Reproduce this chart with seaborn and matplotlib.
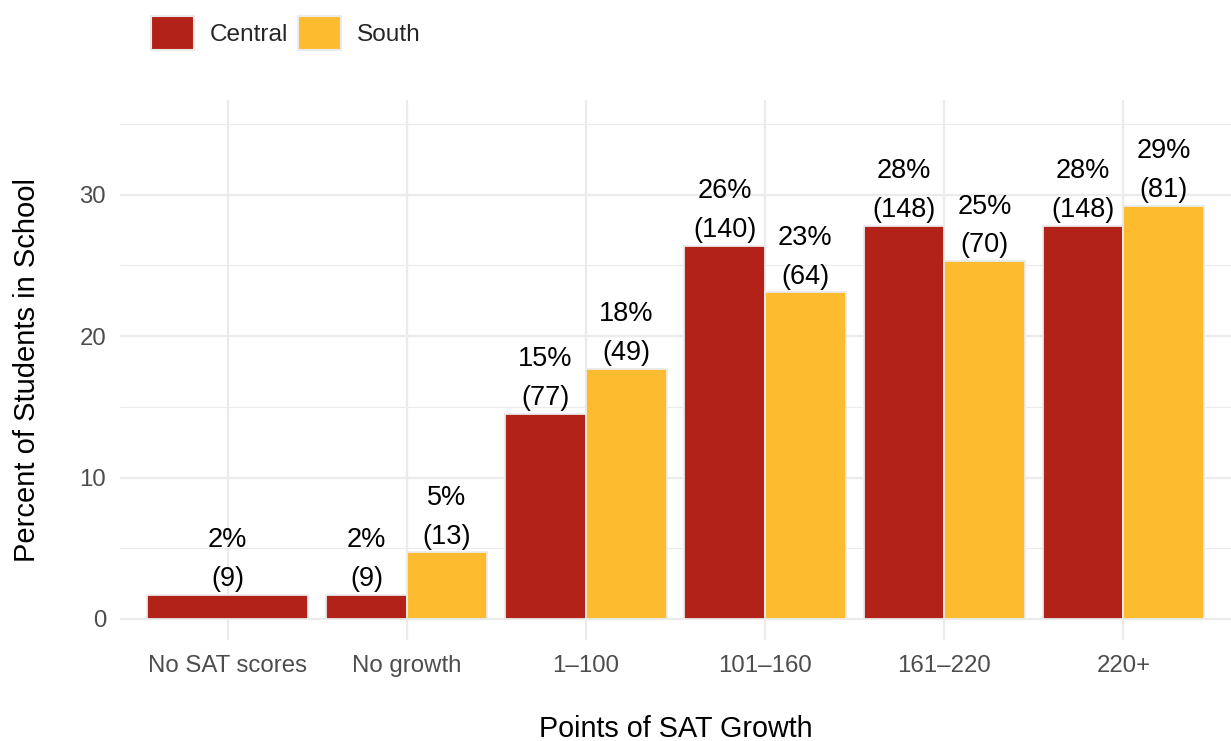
import numpy as np
import pandas as pd
import matplotlib
matplotlib.use("Agg")
import matplotlib.pyplot as plt
import seaborn as sns
from matplotlib.patches import Patch
from matplotlib.ticker import MultipleLocator

# ---- data ----
categories = ["No SAT scores", "No growth", "1\u2013100", "101\u2013160", "161\u2013220", "220+"]
schools = ["Central", "South"]
central_pct = [1.7, 1.7, 14.5, 26.4, 27.8, 27.8]
south_pct = [None, 4.7, 17.7, 23.1, 25.3, 29.2]
central_n = [9, 9, 77, 140, 148, 148]
south_n = [None, 13, 49, 64, 70, 81]
central_lbl = ["2%", "2%", "15%", "26%", "28%", "28%"]
south_lbl = [None, "5%", "18%", "23%", "25%", "29%"]
colors = ["#B22218", "#FDBB30"]

rows = []
for i, c in enumerate(categories):
    rows.append(dict(growth=c, school="Central", pct=central_pct[i], n=central_n[i], lbl=central_lbl[i]))
    if south_pct[i] is not None:
        rows.append(dict(growth=c, school="South", pct=south_pct[i], n=south_n[i], lbl=south_lbl[i]))
df = pd.DataFrame(rows)

sns.set_theme(style="whitegrid")
plt.rcParams["font.family"] = ["Liberation Sans", "DejaVu Sans"]

fig = plt.figure(figsize=(12.31, 7.41), dpi=100)
ax = fig.add_axes([0.0975, 0.1363, 0.9025, 0.7287])

sns.barplot(data=df, x="growth", y="pct", hue="school", order=categories,
            hue_order=schools, palette=colors, width=0.9, gap=0, saturation=1,
            edgecolor="#EBEBEB", linewidth=1.3, errorbar=None, legend=False, ax=ax)

# single-bar group spans the full dodge width (ggplot position_dodge behaviour)
for p in ax.patches:
    cx = p.get_x() + p.get_width() / 2
    if abs(cx - (-0.225)) < 0.01:
        p.set_x(-0.45)
        p.set_width(0.9)

# labels
for p in ax.patches:
    cx = p.get_x() + p.get_width() / 2
    h = p.get_height()
    i = int(round(cx))
    school = "Central" if (cx <= i + 1e-6 or p.get_width() > 0.5) else "South"
    r = df[(df.growth == categories[i]) & (df.school == school)].iloc[0]
    ax.annotate(f"{r.lbl}\n({r.n})", xy=(cx, h), xytext=(0, 2), textcoords="offset points",
                ha="center", va="bottom", fontsize=19.5, linespacing=1.64, color="black")

ax.set_xlim(-0.6, 5.6)
ax.set_ylim(-1.49, 36.7)
ax.yaxis.set_major_locator(MultipleLocator(10))
ax.yaxis.set_minor_locator(MultipleLocator(5))
ax.grid(True, which="major", color="#EBEBEB", linewidth=1.6)
ax.grid(True, which="minor", axis="y", color="#EBEBEB", linewidth=0.8)
ax.set_axisbelow(True)
for s in ax.spines.values():
    s.set_visible(False)
ax.tick_params(axis="both", which="both", length=0, labelsize=17.3, labelcolor="#4D4D4D")
ax.tick_params(axis="x", pad=11)
ax.tick_params(axis="y", pad=10)

ax.set_xlabel("Points of SAT Growth", fontsize=20.7, color="black", va="baseline")
ax.xaxis.set_label_coords(0.5, -0.179)
ax.set_ylabel("Percent of Students in School", fontsize=21, color="black")
ax.yaxis.set_label_coords(-0.0715, 0.5)

handles = [Patch(facecolor=colors[0], edgecolor="#EBEBEB", linewidth=1.5),
           Patch(facecolor=colors[1], edgecolor="#EBEBEB", linewidth=1.5)]
fig.legend(handles, schools, loc="center left", bbox_to_anchor=(0.115, 0.955), ncol=2,
           frameon=False, fontsize=17.6, handlelength=1.75, handleheight=1.75,
           handletextpad=0.65, columnspacing=0.4, borderaxespad=0)

fig.savefig("out.png", dpi=100)
